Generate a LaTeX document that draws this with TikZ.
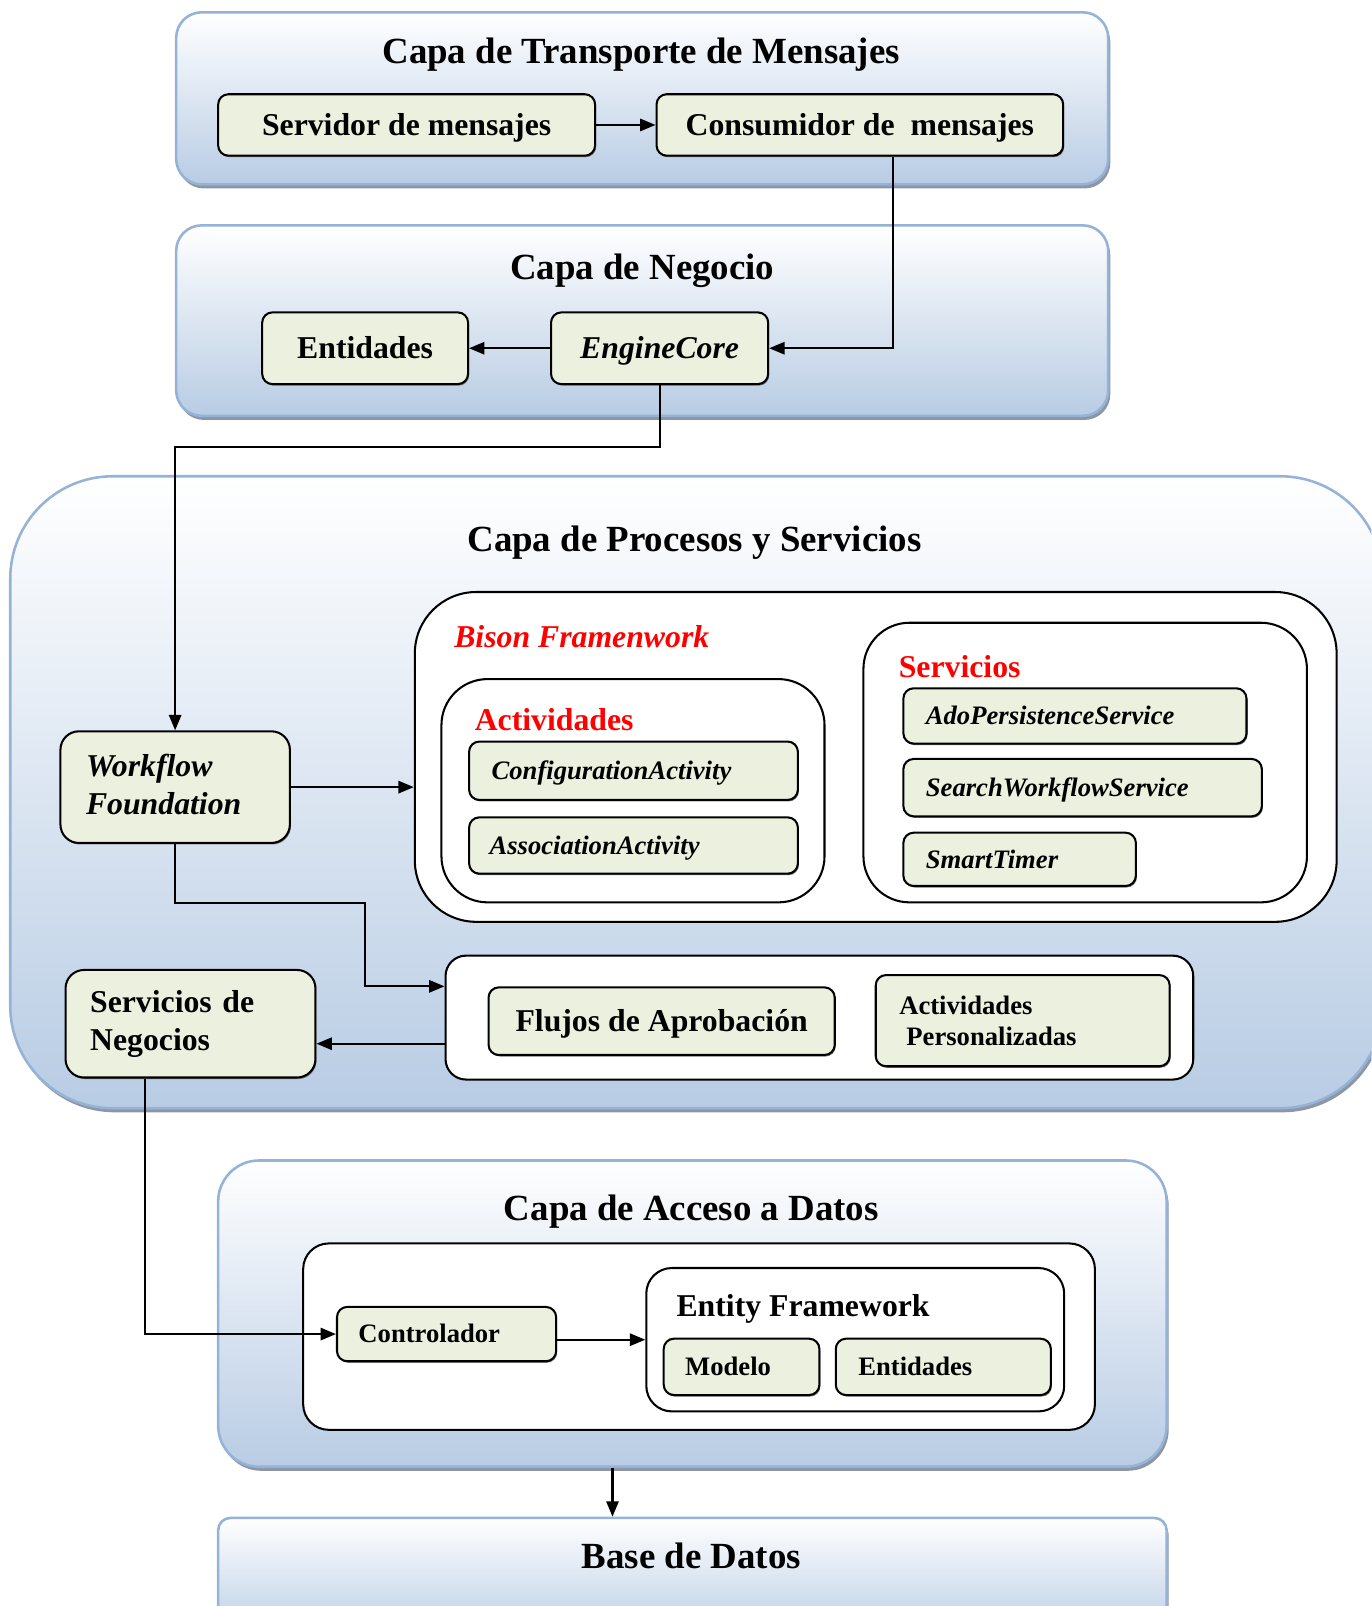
\documentclass[tikz,border=0pt]{standalone}
\usepackage{fontspec}
\setmainfont{Liberation Serif}
\usetikzlibrary{arrows.meta,shadows}
\definecolor{capaazul}{RGB}{184,204,228}
\definecolor{capaborde}{RGB}{149,179,215}
\definecolor{cajaverde}{RGB}{235,241,222}
\definecolor{sombra}{RGB}{140,150,165}
\begin{document}
\begin{tikzpicture}[x=1pt,y=-1pt,
  capa/.style={draw=capaborde,line width=2.5pt,top color=white,bottom color=capaazul,inner sep=0pt,
    drop shadow={shadow xshift=2pt,shadow yshift=-4pt,fill=sombra,opacity=1}},
  panel/.style={draw,line width=2pt,fill=white,inner sep=0pt},
  caja/.style={draw,line width=2pt,fill=cajaverde,rounded corners=10pt,inner sep=0pt,align=left,
    drop shadow={shadow xshift=1pt,shadow yshift=-1.5pt,fill=black!55,opacity=1}},
  linea/.style={text height=#1,text depth=0pt},
  titulo/.style={font=\fontsize{36}{40}\selectfont\bfseries,anchor=base},
  grande/.style={font=\fontsize{31}{37}\selectfont\bfseries},
  chica/.style={font=\fontsize{26}{30}\selectfont\bfseries},
  rojo/.style={text=red,anchor=base west},
  flecha/.style={line width=2pt,-{Triangle[length=15pt,width=12pt]}}]
\useasboundingbox (0,0) rectangle (1339,1568);
\clip (0,0) rectangle (1339,1568);

\node[capa,rounded corners=25pt,minimum width=910pt,minimum height=168pt] (transporte) at (627,96) {};
\node[titulo] (ttransporte) at (626,62) {Capa de Transporte de Mensajes};
\node[caja,grande,linea=20.5pt,minimum width=368pt,minimum height=60pt] (servidor) at (397,122) {Servidor de mensajes};
\node[caja,grande,linea=20.5pt,minimum width=397pt,minimum height=60pt] (consumidor) at (839.5,122) {Consumidor de\ \ mensajes};

\node[capa,rounded corners=25pt,minimum width=910pt,minimum height=186pt] (negocio) at (627,313) {};
\node[titulo] (tnegocio) at (627,273) {Capa de Negocio};
\node[caja,grande,linea=20.5pt,minimum width=201pt,minimum height=70pt] (entidades) at (356.5,340) {Entidades};
\node[caja,grande,linea=20.5pt,minimum width=212pt,minimum height=70pt] (enginecore) at (644,340) {\itshape EngineCore};

\node[capa,rounded corners=100pt,minimum width=1340pt,minimum height=617pt] (procesos) at (680,773.5) {};
\node[titulo] (tprocesos) at (678,538) {Capa de Procesos y Servicios};
\node[panel,rounded corners=60pt,minimum width=900pt,minimum height=322pt] (bison) at (855,739) {};
\node[grande,rojo] (tbison) at (440,632) {\itshape Bison Framenwork};
\node[panel,rounded corners=45pt,minimum width=374pt,minimum height=218pt] (actividades) at (618,772) {};
\node[grande,rojo] (tactividades) at (460,713) {Actividades};
\node[caja,chica,linea=17pt,minimum width=321pt,minimum height=57pt,text width=277pt] (configuration) at (618.5,752.5) {\itshape ConfigurationActivity};
\node[caja,chica,linea=17pt,minimum width=321pt,minimum height=55pt,text width=281pt] (association) at (618.5,825.5) {\itshape AssociationActivity};
\node[panel,rounded corners=45pt,minimum width=433pt,minimum height=273pt] (servicios) at (1059.5,744.5) {};
\node[grande,rojo] (tservicios) at (874,661) {Servicios};
\node[caja,chica,linea=17pt,minimum width=335pt,minimum height=54pt,text width=291pt] (ado) at (1049.5,699) {\itshape AdoPersistenceService};
\node[caja,chica,linea=17pt,minimum width=350pt,minimum height=56pt,text width=306pt] (search) at (1057,769) {\itshape SearchWorkflowService};
\node[caja,chica,linea=17pt,minimum width=227pt,minimum height=52pt,text width=183pt] (smarttimer) at (995.5,839) {\itshape SmartTimer};
\node[caja,grande,rounded corners=18pt,minimum width=224pt,minimum height=109pt,text width=174pt] (workflow) at (171,768.5) {\itshape Workflow\\Foundation\vspace*{6pt}};
\node[panel,rounded corners=20pt,minimum width=730pt,minimum height=121pt] (flujospanel) at (800,993.5) {};
\node[caja,grande,linea=20.5pt,minimum width=338pt,minimum height=66pt] (flujos) at (646,997) {Flujos de Aprobación};
\node[caja,chica,minimum width=287pt,minimum height=89pt,text width=241pt] (personalizadas) at (998.5,996.5) {Actividades\\\hspace*{7pt}Personalizadas};
\node[caja,grande,rounded corners=18pt,minimum width=244pt,minimum height=105pt,text width=196pt] (negocios) at (186,999.5) {Servicios de\\Negocios};

\node[capa,rounded corners=40pt,minimum width=926pt,minimum height=299pt] (acceso) at (676,1282.5) {};
\node[titulo] (tacceso) at (675,1192) {Capa de Acceso a Datos};
\node[panel,rounded corners=25pt,minimum width=773pt,minimum height=182pt] (accesopanel) at (682.5,1305) {};
\node[caja,chica,linea=17pt,minimum width=214pt,minimum height=53pt,text width=172pt] (controlador) at (436,1302.5) {Controlador};
\node[panel,rounded corners=25pt,minimum width=408pt,minimum height=140pt] (entity) at (835,1308) {};
\node[grande,anchor=base west] (tentity) at (657,1285) {Entity Framework};
\node[caja,chica,linea=17pt,minimum width=152pt,minimum height=55pt,text width=110pt] (modelo) at (724,1334.5) {Modelo};
\node[caja,chica,linea=17pt,minimum width=210pt,minimum height=55pt,text width=166pt] (entidadesdatos) at (921,1334.5) {Entidades};

\node[capa,rounded corners=12pt,minimum width=926pt,minimum height=118pt] (base) at (676,1541) {};
\node[titulo] (tbase) at (675,1531) {Base de Datos};

\draw[flecha] (servidor) -- (consumidor);
\draw[flecha] ([xshift=32.5pt]consumidor.south) |- (enginecore.east);
\draw[flecha] (enginecore) -- (entidades);
\draw[flecha] (enginecore.south) -- ++(0,60) -| (workflow.north);
\draw[flecha] (workflow.east) -- (workflow.east -| bison.west);
\coordinate (entradaflujos) at ([yshift=30.5pt]flujospanel.west);
\draw[flecha] (workflow.south) -- ++(0,58) -| ([xshift=-78pt]entradaflujos) -- (entradaflujos);
\coordinate (salidaflujos) at ([yshift=-25.5pt]flujospanel.west);
\draw[flecha] (salidaflujos) -- (salidaflujos -| negocios.east);
\draw[flecha] ([xshift=-44pt]negocios.south) |- (controlador.west);
\draw[flecha] (controlador.east |- entity.west) -- (entity.west);
\draw[flecha] ([xshift=-78pt]acceso.south) -- ([xshift=-78pt]base.north);
\end{tikzpicture}
\end{document}
